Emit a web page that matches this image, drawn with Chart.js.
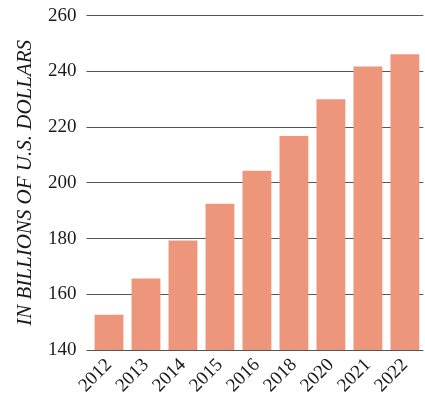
<!DOCTYPE html>
<html>
<head>
<meta charset="utf-8">
<script src="https://cdn.jsdelivr.net/npm/chart.js@4/dist/chart.umd.min.js"></script>
<style>
  html, body { margin: 0; padding: 0; background: #ffffff; }
  #wrap { width: 425px; height: 412px; position: relative; }
</style>
</head>
<body>
<div id="wrap"><canvas id="c" width="425" height="412"></canvas></div>
<script>
const years = ["2012", "2013", "2014", "2015", "2016", "2018", "2020", "2021", "2022"];
const values = [152.7, 165.7, 179.3, 192.5, 204.3, 216.8, 230.0, 241.8, 246.2];
const yTicks = [140, 160, 180, 200, 220, 240, 260];
const yTitle = "IN BILLIONS OF U.S. DOLLARS";

const serif = "'Liberation Serif', 'DejaVu Serif', serif";

new Chart(document.getElementById('c'), {
  type: 'bar',
  data: {
    labels: years,
    datasets: [{
      data: values,
      backgroundColor: 'rgb(238,150,124)',
      borderWidth: 0,
      barPercentage: 0.78,
      categoryPercentage: 1.0
    }]
  },
  options: {
    responsive: false,
    animation: false,
    devicePixelRatio: 1,
    layout: { padding: { left: 15, right: 0, top: 0, bottom: 11 } },
    plugins: { legend: { display: false }, tooltip: { enabled: false } },
    scales: {
      x: {
        grid: { display: false, drawTicks: false },
        border: { display: false },
        ticks: {
          color: '#1a1a1a',
          font: { family: serif, size: 19 },
          minRotation: 45,
          maxRotation: 45,
          padding: 4
        }
      },
      y: {
        min: yTicks[0],
        max: yTicks[yTicks.length - 1],
        afterBuildTicks: (axis) => { axis.ticks = yTicks.map(v => ({ value: v })); },
        grid: { color: '#555555', lineWidth: 1, drawTicks: true, tickLength: 4 },
        border: { display: false },
        ticks: {
          color: '#1a1a1a',
          font: { family: serif, size: 19, lineHeight: 0.6 },
          padding: 10
        },
        title: {
          display: true,
          text: yTitle,
          color: '#1a1a1a',
          font: { family: serif, size: 21, style: 'italic', lineHeight: 1.0 },
          padding: { top: 0, bottom: 2 }
        }
      }
    }
  }
});
</script>
</body>
</html>
